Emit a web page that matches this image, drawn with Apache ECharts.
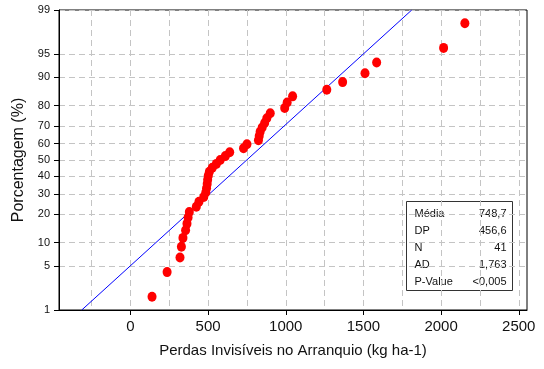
<!DOCTYPE html>
<html>
<head>
<meta charset="utf-8">
<script src="https://cdn.jsdelivr.net/npm/echarts@6/dist/echarts.min.js"></script>
<style>html,body{margin:0;padding:0;background:#fff}#c{width:544px;height:369px}</style>
</head>
<body>
<div id="c"></div>
<script>
// Data values (kg ha-1), sorted
const losses = [139, 236, 319, 328, 338, 355, 364, 371, 379, 424,
  441, 472, 485, 490, 494, 497, 501, 508, 527, 553,
  578, 611, 639, 728, 750, 824, 829, 835, 848, 864,
  878, 900, 993, 1009, 1044, 1264, 1366, 1510, 1585, 2016, 2153];
// Plotting positions (%)
const percents = [1.691, 4.106, 6.522, 8.937, 11.353, 13.768, 16.184, 18.599, 21.014, 23.430,
  25.845, 28.261, 30.676, 33.092, 35.507, 37.923, 40.338, 42.754, 45.169, 47.585,
  50.000, 52.415, 54.831, 57.246, 59.662, 62.077, 64.493, 66.908, 69.324, 71.739,
  74.155, 76.570, 78.986, 81.401, 83.816, 86.232, 88.647, 91.063, 93.478, 95.894, 98.309];
const yTicks = [1, 5, 10, 20, 30, 40, 50, 60, 70, 80, 90, 95, 99];
const xLabels = [0, 500, 1000, 1500, 2000, 2500];
const xGrid = [-250, 0, 250, 500, 750, 1000, 1250, 1500, 1750, 2000, 2250, 2500];
const statNames = ['Média', 'DP', 'N', 'AD', 'P-Value'];
const statValues = ['748,7', '456,6', '41', '1,763', '<0,005'];
const mean = 748.7, sd = 456.6;

// inverse normal CDF (Acklam) - probability axis transform
function probit(p) {
  const a = [-3.969683028665376e+01, 2.209460984245205e+02, -2.759285104469687e+02, 1.383577518672690e+02, -3.066479806614716e+01, 2.506628277459239e+00];
  const b = [-5.447609879822406e+01, 1.615858368580409e+02, -1.556989798598866e+02, 6.680131188771972e+01, -1.328068155288572e+01];
  const c = [-7.784894002430293e-03, -3.223964580411365e-01, -2.400758277161838e+00, -2.549732539343734e+00, 4.374664141464968e+00, 2.938163982698783e+00];
  const d = [7.784695709041462e-03, 3.224671290700398e-01, 2.445134137142996e+00, 3.754408661907416e+00];
  const pl = 0.02425, ph = 1 - pl;
  let q, r;
  if (p < pl) { q = Math.sqrt(-2 * Math.log(p)); return (((((c[0]*q+c[1])*q+c[2])*q+c[3])*q+c[4])*q+c[5]) / ((((d[0]*q+d[1])*q+d[2])*q+d[3])*q+1); }
  if (p <= ph) { q = p - 0.5; r = q*q; return (((((a[0]*r+a[1])*r+a[2])*r+a[3])*r+a[4])*r+a[5])*q / (((((b[0]*r+b[1])*r+b[2])*r+b[3])*r+b[4])*r+1); }
  q = Math.sqrt(-2 * Math.log(1 - p)); return -(((((c[0]*q+c[1])*q+c[2])*q+c[3])*q+c[4])*q+c[5]) / ((((d[0]*q+d[1])*q+d[2])*q+d[3])*q+1);
}
const yTickZ = yTicks.map(v => probit(v / 100));
const zMin = probit(0.01), zMax = probit(0.99);
const pts = losses.map((x, i) => [x, probit(percents[i] / 100)]);
const fitLine = [[mean + sd * zMin, zMin], [mean + sd * zMax, zMax]];

const font = 'Liberation Sans, Arial, sans-serif';
const gridLine = { show: true, lineStyle: { color: '#c4c4c4', type: [6, 4], width: 1 } };
const chart = echarts.init(document.getElementById('c'));
chart.setOption({
  animation: false,
  grid: { left: 59, right: 17, top: 10, bottom: 59, show: true, borderColor: '#000', borderWidth: 1, backgroundColor: '#fff' },
  xAxis: [{
    type: 'value', min: -460, max: 2553, position: 'bottom',
    name: 'Perdas Invisíveis no Arranquio (kg ha-1)', nameLocation: 'middle', nameGap: 33,
    nameTextStyle: { fontFamily: font, fontSize: 15, color: '#111' },
    axisLine: { onZero: false, lineStyle: { color: '#000', width: 1 } },
    axisTick: { show: true, length: 5, customValues: xLabels, lineStyle: { color: '#000' } },
    axisLabel: { customValues: xLabels, margin: 9, fontFamily: font, fontSize: 15, color: '#111', formatter: v => String(v) },
    splitLine: { show: false }
  }, {
    type: 'value', min: -460, max: 2553, position: 'bottom',
    axisLine: { show: false, onZero: false }, axisLabel: { show: false },
    axisTick: { show: false, customValues: xGrid },
    splitLine: gridLine
  }],
  yAxis: {
    type: 'value', min: zMin, max: zMax,
    name: 'Porcentagem (%)', nameLocation: 'middle', nameGap: 31,
    nameTextStyle: { fontFamily: font, fontSize: 16, color: '#111' },
    axisLine: { onZero: false, lineStyle: { color: '#000', width: 1 } },
    axisTick: { show: true, length: 5, customValues: yTickZ, lineStyle: { color: '#000' } },
    axisLabel: {
      customValues: yTickZ, margin: 9, fontFamily: font, fontSize: 11, color: '#111',
      formatter: function (v) {
        let best = 0, bd = 1e9;
        yTickZ.forEach((z, i) => { const dd = Math.abs(z - v); if (dd < bd) { bd = dd; best = i; } });
        return String(yTicks[best]);
      }
    },
    splitLine: gridLine
  },
  series: [{
    type: 'line', data: fitLine, xAxisIndex: 0, showSymbol: false, symbol: 'none',
    lineStyle: { color: '#0000ff', width: 1 }, z: 3
  }, {
    type: 'scatter', data: pts, xAxisIndex: 0, symbol: 'circle', symbolSize: [9, 10],
    itemStyle: { color: '#ff0000', opacity: 1 }, z: 4
  }],
  graphic: [{
    type: 'group', left: 406, top: 201, children: [
      { type: 'rect', shape: { x: 0, y: 0, width: 106, height: 89 }, style: { fill: '#fff', stroke: '#333', lineWidth: 1 } }
    ].concat(statNames.map((n, i) => ({ type: 'text', x: 8, y: 7 + i * 17, style: { text: n, font: '11px ' + font, fill: '#111' } })))
     .concat(statValues.map((v, i) => ({ type: 'text', x: 100, y: 7 + i * 17, style: { text: v, font: '11px ' + font, fill: '#111', align: 'right' } })))
  }]
});
</script>
</body>
</html>
